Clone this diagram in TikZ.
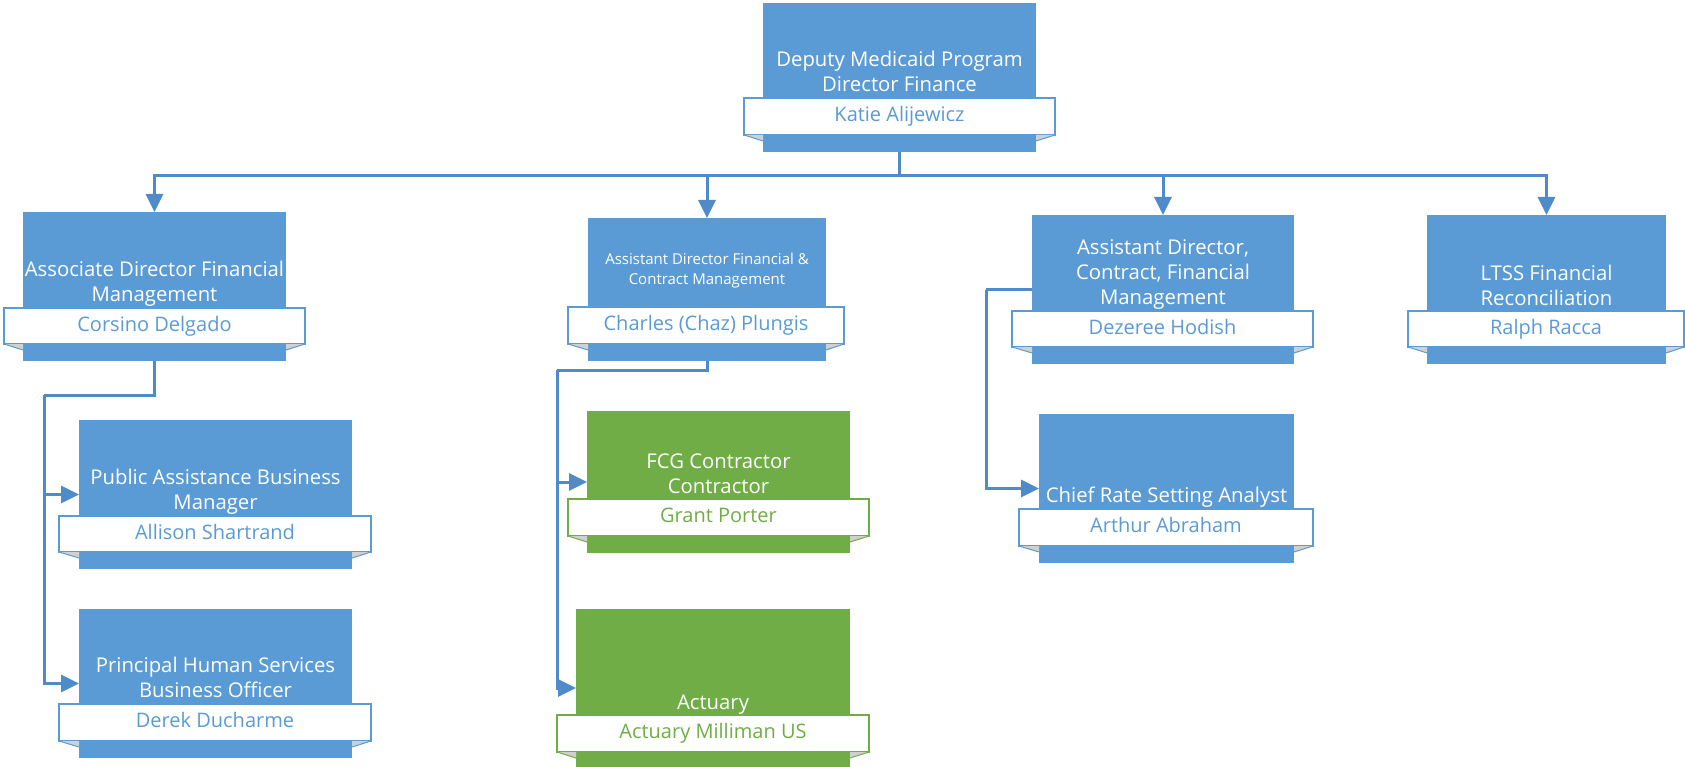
\documentclass[tikz,border=0pt]{standalone}
\usepackage{fontspec}
\setmainfont{Open Sans}
\usetikzlibrary{arrows.meta,calc}
\definecolor{bl}{HTML}{5B9BD5}
\definecolor{gr}{HTML}{70AD47}
\definecolor{ln}{HTML}{4F8BC9}
\definecolor{foldc}{HTML}{D0D0D0}
\newcommand\folds[3]{%
  \fill[foldc] (#2.south west) -- (#1.west |- #2.south) -- ($(#1.west |- #2.south)+(0,6)$) -- cycle;
  \draw[#3,line width=1pt] (#2.south west) -- ($(#1.west |- #2.south)+(0,6)$);
  \fill[foldc] (#2.south east) -- (#1.east |- #2.south) -- ($(#1.east |- #2.south)+(0,6)$) -- cycle;
  \draw[#3,line width=1pt] (#2.south east) -- ($(#1.east |- #2.south)+(0,6)$);
}
\begin{document}
\begin{tikzpicture}[x=1pt,y=-1pt,
  box/.style={rectangle,inner sep=0pt,outer sep=0pt,anchor=north west,fill=#1},
  band/.style={rectangle,fill=white,draw=#1,line width=1.2pt,anchor=north west,inner sep=0pt,outer sep=0pt,text=#1,font=\fontsize{20}{24}\selectfont,text height=14.5pt,text depth=4pt},
  ttl/.style={anchor=south,align=center,text=white,inner sep=0pt,text depth=0pt,font=\fontsize{20.3}{25}\selectfont},
  sttl/.style={ttl,font=\fontsize{15}{20}\selectfont},
  conn/.style={draw=ln,line width=3pt},
  arr/.style={conn,-{Triangle[length=18pt,width=17pt]}}]
\useasboundingbox[fill=white] (0,0) rectangle (1685,767);

% boxes
\node[box=bl,minimum width=273pt,minimum height=149pt] (top) at (763,3) {};
\node[box=bl,minimum width=263pt,minimum height=149pt] (A) at (23,212) {};
\node[box=bl,minimum width=238pt,minimum height=143pt] (B) at (588,218) {};
\node[box=bl,minimum width=262pt,minimum height=149pt] (C) at (1032,215) {};
\node[box=bl,minimum width=239pt,minimum height=149pt] (D) at (1427,215) {};
\node[box=bl,minimum width=273pt,minimum height=149pt] (A1) at (79,420) {};
\node[box=bl,minimum width=273pt,minimum height=149pt] (A2) at (79,609) {};
\node[box=gr,minimum width=263pt,minimum height=142pt] (B1) at (587,411) {};
\node[box=gr,minimum width=274pt,minimum height=158pt] (B2) at (576,609) {};
\node[box=bl,minimum width=255pt,minimum height=149pt] (C1) at (1039,414) {};

% connectors
\coordinate (bus) at (899.5,176);
\draw[conn] (top.south) -- (bus);
\draw[arr] (bus) -| (A.north);
\draw[arr] (bus) -| (B.north);
\draw[arr] (bus) -| (C.north);
\draw[arr] (bus) -| (D.north);
\coordinate (aL) at (44,395);
\draw[conn] (A.south) |- (aL);
\draw[arr] (aL) |- (A1.west);
\draw[arr] (aL) |- (A2.west);
\coordinate (bL) at (557,370);
\draw[conn] (B.south) |- (bL);
\draw[arr] (bL) |- (B1.west);
\draw[arr] (bL) |- (B2.west);
\coordinate (cL) at (986,289.5);
\draw[conn] (C.west) -- (cL);
\draw[arr] (cL) |- (C1.west);

% titles
\node[ttl] (topT) at (899.5,92) {Deputy Medicaid Program\\Director Finance};
\node[ttl] (AT) at (154.5,302) {Associate Director Financial\\Management};
\node[sttl] (BT) at (707,285) {Assistant Director Financial \&\\Contract Management};
\node[ttl] (CT) at (1163,305) {Assistant Director,\\Contract, Financial\\Management};
\node[ttl] (DT) at (1546.5,306) {LTSS Financial\\Reconciliation};
\node[ttl] (A1T) at (215.5,510) {Public Assistance Business\\Manager};
\node[ttl] (A2T) at (215.5,698) {Principal Human Services\\Business Officer};
\node[ttl] (B1T) at (718.5,494) {FCG Contractor\\Contractor};
\node[ttl] (B2T) at (713,710) {Actuary};
\node[ttl] (C1T) at (1166.5,503) {Chief Rate Setting Analyst};

% bands
\node[band=bl,minimum width=311pt,minimum height=37pt] (topN) at (744,98) {Katie Alijewicz};
\node[band=bl,minimum width=301pt,minimum height=36pt] (AN) at (4,308) {Corsino Delgado};
\node[band=bl,minimum width=276pt,minimum height=37pt] (BN) at (568,307) {Charles (Chaz) Plungis};
\node[band=bl,minimum width=301pt,minimum height=36pt] (CN) at (1012,311) {Dezeree Hodish};
\node[band=bl,minimum width=276pt,minimum height=36pt] (DN) at (1408,311) {Ralph Racca};
\node[band=bl,minimum width=312pt,minimum height=36pt] (A1N) at (59,516) {Allison Shartrand};
\node[band=bl,minimum width=312pt,minimum height=37pt] (A2N) at (59,704) {Derek Ducharme};
\node[band=gr,minimum width=301pt,minimum height=37pt] (B1N) at (568,499) {Grant Porter};
\node[band=gr,minimum width=312pt,minimum height=37pt] (B2N) at (557,715) {Actuary Milliman US};
\node[band=bl,minimum width=294pt,minimum height=37pt] (C1N) at (1019,509) {Arthur Abraham};

\folds{top}{topN}{bl}
\folds{A}{AN}{bl}
\folds{B}{BN}{bl}
\folds{C}{CN}{bl}
\folds{D}{DN}{bl}
\folds{A1}{A1N}{bl}
\folds{A2}{A2N}{bl}
\folds{B1}{B1N}{gr}
\folds{B2}{B2N}{gr}
\folds{C1}{C1N}{bl}
\end{tikzpicture}
\end{document}
